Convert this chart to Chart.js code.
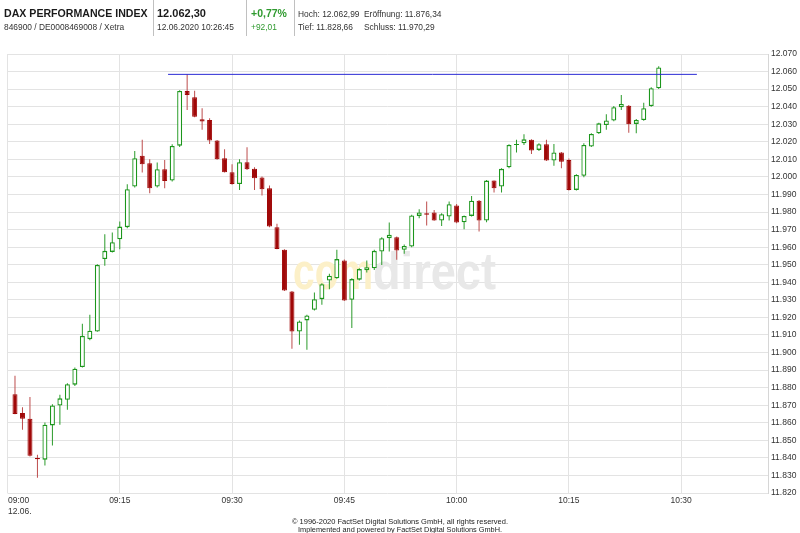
<!DOCTYPE html>
<html><head><meta charset="utf-8">
<script src="https://cdn.jsdelivr.net/npm/chart.js@4.4.1/dist/chart.umd.min.js"></script>
<style>html,body{margin:0;padding:0;background:#fff;}canvas{display:block}</style>
</head><body>
<canvas id="c" width="800" height="533"></canvas>
<script>
// minutes after 09:00 (12.06.2020), one candle per minute
const minutes = [1,2,3,4,5,6,7,8,9,10,11,12,13,14,15,16,17,18,19,20,21,22,23,24,25,26,27,28,29,30,31,32,33,34,35,36,37,38,39,40,41,42,43,44,45,46,47,48,49,50,51,52,53,54,55,56,57,58,59,60,61,62,63,64,65,66,67,68,69,70,71,72,73,74,75,76,77,78,79,80,81,82,83,84,85,86,87];
const opens = [11876.3,11865.5,11862.3,11840.0,11839.0,11858.5,11869.8,11873.1,11881.7,11891.7,11907.6,11912.0,11953.2,11957.3,11964.5,11971.4,11994.5,12012.0,12007.8,11994.5,12004.4,11997.9,12017.8,12048.9,12045.3,12032.8,12032.4,12020.7,12010.6,12002.7,11996.0,12008.4,12004.6,11999.6,11993.6,11971.4,11958.5,11934.8,11912.0,11918.3,11924.3,11930.4,11941.0,11942.3,11952.4,11930.0,11941.5,11946.8,11948.0,11957.5,11965.1,11965.7,11958.5,11960.4,11977.8,11979.3,11979.7,11975.2,11977.4,11983.7,11974.2,11977.8,11986.4,11975.2,11997.9,11994.5,12005.5,12018.2,12019.2,12021.1,12015.4,12018.6,12009.3,12013.9,12009.7,11992.6,12000.6,12017.3,12024.9,12029.6,12032.1,12039.7,12040.6,12030.2,12032.4,12040.4,12050.5];
const highs = [11886.8,11868.9,11874.6,11841.8,11860.2,11870.5,11876.0,11882.5,11891.5,11916.4,11921.5,11950.2,11967.4,11968.3,11974.6,11995.8,12014.8,12021.1,12010.1,12008.2,12009.7,12018.6,12049.3,12058.4,12049.1,12039.1,12033.4,12021.0,12015.8,12007.2,12010.0,12016.9,12005.5,12000.2,11995.1,11973.3,11958.8,11935.0,11918.3,11921.5,11934.2,11939.5,11944.8,11958.5,11953.0,11942.3,11948.0,11952.4,11958.5,11965.7,11974.0,11966.0,11961.5,11978.5,11981.6,11986.0,11981.2,11979.3,11986.0,11984.6,11978.0,11989.2,11986.8,11998.3,11998.0,12005.0,12018.6,12021.1,12024.3,12021.4,12019.2,12021.1,12018.8,12014.2,12010.5,12001.5,12019.2,12024.9,12030.9,12035.7,12040.4,12046.7,12041.0,12033.0,12042.3,12051.0,12063.0];
const lows = [11864.8,11856.0,11840.8,11828.7,11835.7,11847.0,11858.9,11867.4,11881.0,11891.5,11907.0,11911.8,11949.4,11957.0,11958.8,11970.8,11994.0,12002.5,11990.7,11994.0,11993.6,11997.4,12017.0,12038.1,12034.0,12026.8,12018.8,12009.8,12002.5,11995.5,11992.6,12004.0,11992.6,11989.4,11971.4,11958.8,11935.0,11902.1,11904.4,11901.6,11924.0,11927.2,11936.1,11942.0,11929.4,11913.9,11941.0,11945.6,11947.0,11949.9,11957.5,11952.8,11956.2,11960.0,11976.5,11972.3,11975.0,11972.1,11975.2,11973.6,11970.2,11977.5,11968.9,11974.2,11991.1,11991.1,12005.0,12013.9,12018.2,12013.1,12014.8,12009.0,12006.3,12004.9,11992.3,11992.2,11999.8,12017.0,12024.5,12026.8,12031.7,12038.1,12025.2,12024.9,12032.0,12040.0,12050.0];
const closes = [11865.0,11862.3,11841.2,11839.2,11858.9,11869.9,11873.9,11882.0,11890.8,11909.5,11912.4,11949.9,11957.9,11962.8,11971.7,11993.0,12010.6,12007.2,11993.6,12004.4,11997.7,12017.6,12048.9,12046.7,12034.3,12031.5,12020.7,12010.1,12002.7,11996.0,12008.4,12004.4,11999.2,11993.0,11971.7,11959.0,11935.3,11912.0,11917.7,11921.1,11930.4,11938.9,11943.7,11953.2,11929.6,11941.8,11947.5,11948.6,11957.9,11965.1,11967.0,11958.1,11960.7,11978.0,11979.7,11978.4,11975.2,11978.8,11984.5,11974.0,11977.8,11986.5,11975.2,11997.9,11993.6,12004.6,12018.2,12018.8,12021.4,12015.0,12018.6,12009.3,12013.9,12008.7,11992.6,12001.1,12018.2,12024.5,12030.5,12032.1,12039.7,12041.5,12030.0,12032.4,12039.1,12050.5,12062.3];
// reference line (earlier high)
const refLevel = 12058.4;
const refFrom = 21.45, refTo = 92.1;
// axes
const xTickMinutes = [0,15,30,45,60,75,90];
const xTickLabels = ["09:00","09:15","09:30","09:45","10:00","10:15","10:30"];
const dateLabel = "12.06.";
const yMin = 11820, yMax = 12070, yStep = 10;
// header / footer texts
const titleText = "DAX PERFORMANCE INDEX";
const subText = "846900 / DE0008469008 / Xetra";
const lastText = "12.062,30";
const timeText = "12.06.2020 10:26:45";
const pctText = "+0,77%";
const chgText = "+92,01";
const hiText = "Hoch: 12.062,99", openText = "Eröffnung: 11.876,34";
const loText = "Tief: 11.828,66", prevText = "Schluss: 11.970,29";
const foot1 = "© 1996-2020 FactSet Digital Solutions GmbH, all rights reserved.";
const foot2 = "Implemented and powered by FactSet Digital Solutions GmbH.";

const RED = '#a00808', RED_WICK = '#bd4c4c', GREEN = '#1c961c', GREEN_WICK = '#2a9a2a';
const isUp = opens.map((o,i)=>closes[i] >= o);

const bodyData = minutes.map((m,i)=>({x:m, y:[opens[i], closes[i]]}));
const wickData = minutes.map((m,i)=>({x:m, y:[lows[i], highs[i]]}));
const FONT = '"Liberation Sans", Arial, sans-serif';

const deco = {
  id:'deco',
  beforeDatasetsDraw(chart){
    const ctx = chart.ctx;
    ctx.save();
    ctx.font = 'bold 52px ' + FONT;
    ctx.textBaseline = 'alphabetic';
    ctx.textAlign = 'left';
    const w1 = 80;
    ctx.fillStyle = '#fcf0c8';
    ctx.fillText('com', 293, 289, w1);
    ctx.fillStyle = '#e8e8e8';
    ctx.fillText('direct', 293 + w1, 289, 123);
    ctx.restore();
  },
  afterDraw(chart){
    const ctx = chart.ctx;
    const xs = chart.scales.x;
    ctx.save();
    // header
    ctx.textBaseline = 'alphabetic';
    ctx.textAlign = 'left';
    ctx.fillStyle = '#1a1a1a';
    ctx.font = 'bold 10.6px ' + FONT;
    ctx.fillText(titleText, 4, 17);
    ctx.font = 'bold 11px ' + FONT;
    ctx.fillText(lastText, 157, 17);
    ctx.fillStyle = '#2f9a2f';
    ctx.font = 'bold 10.5px ' + FONT;
    ctx.fillText(pctText, 251, 17);
    ctx.font = '8.4px ' + FONT;
    ctx.fillText(chgText, 251, 30);
    ctx.fillStyle = '#333';
    ctx.fillText(subText, 4, 30);
    ctx.fillText(timeText, 157, 30);
    ctx.fillText(hiText, 298, 17);
    ctx.fillText(openText, 364, 17);
    ctx.fillText(loText, 298, 30);
    ctx.fillText(prevText, 364, 30);
    ctx.strokeStyle = '#c0c0c0';
    ctx.lineWidth = 1;
    [153.5, 246.5, 294.5].forEach(x=>{ctx.beginPath();ctx.moveTo(x,0);ctx.lineTo(x,36);ctx.stroke();});
    // x labels
    ctx.fillStyle = '#333';
    ctx.font = '8.5px ' + FONT;
    xTickMinutes.forEach((m,i)=>{
      const px = xs.getPixelForValue(m);
      if (i === 0) { ctx.textAlign = 'left'; ctx.fillText(xTickLabels[i], 8, 503); ctx.fillText(dateLabel, 8, 514); }
      else { ctx.textAlign = 'center'; ctx.fillText(xTickLabels[i], px, 503); }
    });
    // footer
    ctx.textAlign = 'center';
    ctx.font = '8px ' + FONT;
    ctx.fillStyle = '#222';
    ctx.fillText(foot1, 400, 524, 216);
    ctx.fillText(foot2, 400, 532, 204);
    ctx.restore();
  }
};

new Chart(document.getElementById('c'), {
  type:'bar',
  data:{
    datasets:[
      {type:'line', data:[{x:refFrom,y:refLevel},{x:refTo,y:refLevel}], borderColor:'#2a2ad4', borderWidth:1, pointRadius:0, order:-1},
      {data:bodyData, order:0, grouped:false, barThickness:5, maxBarThickness:5, minBarLength:1,
       backgroundColor: isUp.map(u=>u?'#ffffff':RED), borderColor: isUp.map(u=>u?GREEN:RED),
       borderWidth: isUp.map(u=>u?1.3:1), borderSkipped:false, inflateAmount:0},
      {data:wickData, order:1, grouped:false, barThickness:1, maxBarThickness:1,
       backgroundColor: isUp.map(u=>u?GREEN_WICK:RED_WICK), borderWidth:0, inflateAmount:0}
    ]
  },
  options:{
    responsive:false, animation:false, devicePixelRatio:1,
    layout:{padding:{top:54, left:7.5, right:0, bottom:40}},
    plugins:{legend:{display:false}, tooltip:{enabled:false}},
    scales:{
      x:{type:'linear', min:0, max:101.6, offset:false,
         grid:{offset:false, color:'#e3e3e3', drawTicks:false},
         border:{display:false},
         ticks:{display:false, stepSize:15}},
      y:{type:'linear', position:'right', min:yMin, max:yMax, beginAtZero:false,
         grid:{color:'#e3e3e3', drawTicks:false},
         border:{display:true, color:'#d6d6d6'},
         afterFit:(s)=>{s.width = 32;},
         ticks:{stepSize:yStep, padding:3, color:'#333', font:{family:FONT, size:8.5},
                callback:(v)=> (v/1000).toFixed(3)}}
    }
  },
  plugins:[deco]
});
</script>
</body></html>
